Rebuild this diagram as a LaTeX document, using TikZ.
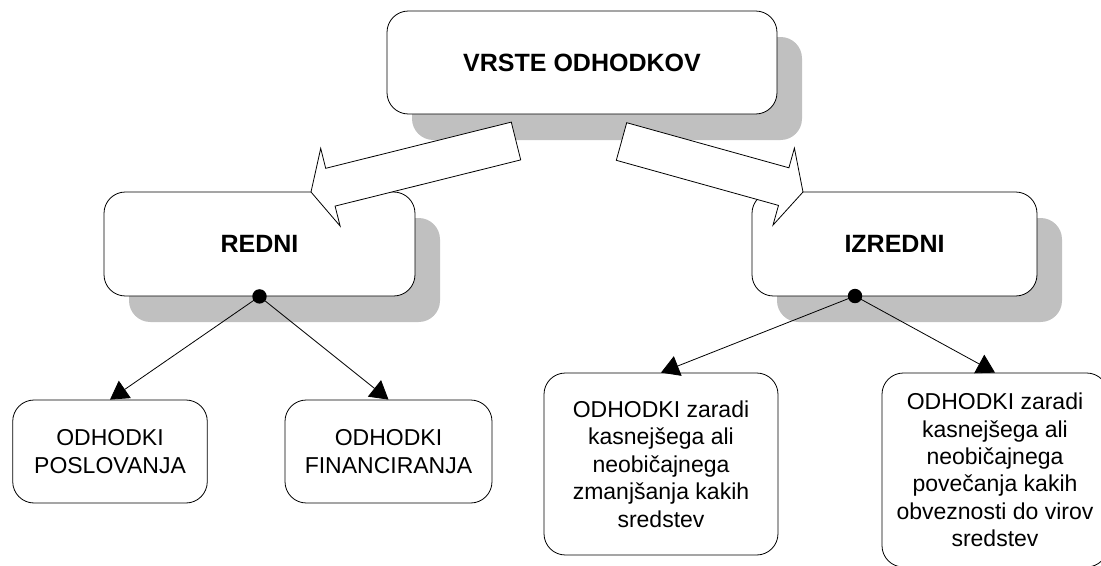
\documentclass[tikz,border=0pt]{standalone}
\usepackage{fontspec}
\setmainfont{Liberation Sans}
\usepackage{tikz}
\usetikzlibrary{arrows.meta,shadows}
\definecolor{shgray}{RGB}{192,192,192}

\begin{document}
\begin{tikzpicture}[x=0.75pt,y=-0.75pt,
    box/.style={draw, line width=0.6pt, fill=white, rounded corners=16pt,
                align=center, inner sep=0pt},
    headbox/.style={box, font=\fontsize{18.75}{22}\selectfont\bfseries,
                drop shadow={shadow xshift=18.75pt, shadow yshift=-19.5pt,
                             fill=shgray, opacity=1}},
    leafbox/.style={box, font=\fontsize{17.25}{20.6}\selectfont},
    link/.style={line width=0.6pt, -{Triangle[length=13.5pt,width=15.75pt]}},
    blockarrow/.style={draw, line width=0.6pt, fill=white, line join=miter}]
        \clip (0,0) rectangle (1101,565);
        % top level and the two kinds
        \node[headbox, minimum width=292.5pt, minimum height=77.25pt]
          (vrste) at (582,62.5) {VRSTE ODHODKOV};
        \node[headbox, minimum width=233.25pt, minimum height=78pt]
          (redni) at (259.5,244) {REDNI};
        \node[headbox, minimum width=213.75pt, minimum height=78pt]
          (izredni) at (894.5,244) {IZREDNI};

        % block arrows
        \draw[blockarrow] (511.3,122.1) -- (325.7,168.3) -- (320.7,148.4)
          -- (311,192) -- (340.1,226) -- (335.1,206.1) -- (520.7,159.9) -- cycle;
        \draw[blockarrow] (626.7,122.7) -- (788.9,167.8) -- (794.4,148.1)
          -- (803,192) -- (773,225.1) -- (778.5,205.4) -- (616.3,160.3) -- cycle;

        % leaves
        \node[leafbox, minimum width=145.9pt, minimum height=77.25pt]
          (poslovanja) at (110,451.5) {ODHODKI\\POSLOVANJA};
        \node[leafbox, minimum width=155.25pt, minimum height=77.25pt]
          (financiranja) at (388.5,451.5) {ODHODKI\\FINANCIRANJA};
        \node[leafbox, minimum width=175.5pt, minimum height=136.5pt]
          (zmanjsanje) at (661,464)
          {ODHODKI zaradi\\kasnejšega ali\\neobičajnega\\zmanjšanja kakih\\sredstev};
        \node[leafbox, minimum width=169.5pt, minimum height=145.5pt]
          (povecanje) at (995,470)
          {ODHODKI zaradi\\kasnejšega ali\\neobičajnega\\povečanja kakih\\obveznosti do virov\\sredstev};

        % connectors
        \coordinate (rdot) at (redni.south);
        \coordinate (idot) at (855,296);
        \draw[link] (rdot) -- (poslovanja.north);
        \draw[link] (rdot) -- (financiranja.north);
        \draw[link] (idot) -- (zmanjsanje.north);
        \draw[link] (idot) -- (povecanje.north);
        \fill (rdot) circle (5.4pt);
        \fill (idot) circle (5.4pt);
\end{tikzpicture}
\end{document}
